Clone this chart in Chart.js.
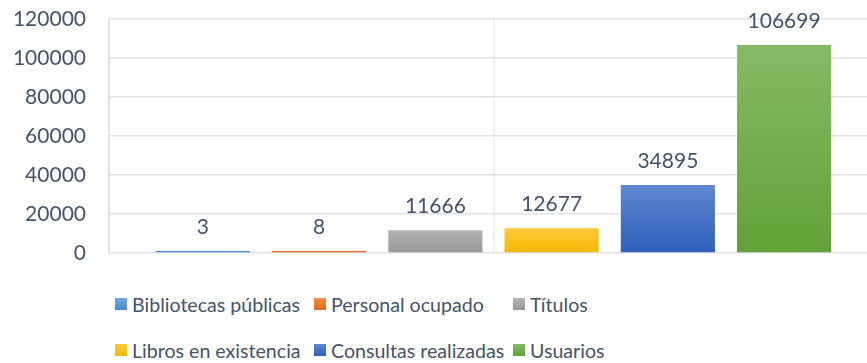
<!doctype html>
<html lang="es">
<head>
<meta charset="utf-8">
<title>Bibliotecas públicas</title>
<script src="https://cdn.jsdelivr.net/npm/chart.js@4.4.1/dist/chart.umd.min.js"></script>
<style>
  html, body { margin: 0; padding: 0; background: #fff; overflow: hidden; }
  #wrap { position: relative; width: 867px; height: 363px; overflow: hidden; }
  #box { position: absolute; left: 0; top: 0; width: 880px; height: 280px; }
  #legend {
    position: absolute; left: 115px; top: 292px;
    display: grid; grid-template-columns: 199px 199px 200px; row-gap: 22px;
    font-family: Lato, sans-serif;
    font-size: 19.6px; color: #44546A;
  }
  #legend .item { display: flex; align-items: center; height: 24px; white-space: nowrap; }
  #legend .sw { width: 12px; height: 12px; margin-right: 5px; flex: none; }
</style>
</head>
<body>
<div id="wrap">
  <div id="box"><canvas id="chart"></canvas></div>
  <div id="legend"></div>
</div>
<script>
// indicadores y sus valores
const series = ['Bibliotecas públicas', 'Personal ocupado', 'Títulos',
                'Libros en existencia', 'Consultas realizadas', 'Usuarios'];
const values = [3, 8, 11666, 12677, 34895, 106699];
const yTicks = [0, 20000, 40000, 60000, 80000, 100000, 120000];

// degradado de cada barra: [arriba, abajo]
const shades = [
  ['#6ea9dd', '#4b8acb'],
  ['#f28c48', '#e06a1c'],
  ['#b3b3b3', '#979797'],
  ['#ffc93c', '#f2b800'],
  ['#5f88d2', '#2e5eb8'],
  ['#86ba66', '#61a136']
];

const textColor = '#44546A';
const numFont = { family: 'Lato, sans-serif', size: 21 };

function barFill(i) {
  return c => {
    const chart = c.chart;
    if (!chart.chartArea || c.parsed == null) return shades[i][1];
    const y = chart.scales.y;
    const top = y.getPixelForValue(c.parsed.y);
    const bottom = y.getPixelForValue(0);
    if (bottom - top < 3) return shades[i][1];
    const g = chart.ctx.createLinearGradient(0, top, 0, bottom);
    g.addColorStop(0, shades[i][0]);
    g.addColorStop(1, shades[i][1]);
    return g;
  };
}

const valueLabels = {
  id: 'valueLabels',
  afterDatasetsDraw(chart) {
    const ctx = chart.ctx;
    ctx.save();
    ctx.font = `${numFont.size}px ${numFont.family}`;
    ctx.fillStyle = textColor;
    ctx.textAlign = 'center';
    ctx.textBaseline = 'middle';
    chart.data.datasets.forEach((ds, i) => {
      chart.getDatasetMeta(i).data.forEach((bar, j) => {
        ctx.fillText(String(ds.data[j]), bar.x, bar.y - 24);
      });
    });
    ctx.restore();
  }
};

new Chart(document.getElementById('chart'), {
  type: 'bar',
  data: {
    labels: [''],
    datasets: series.map((name, i) => ({
      label: name,
      data: [values[i]],
      backgroundColor: barFill(i),
      borderWidth: 0,
      minBarLength: 2,
      categoryPercentage: 0.907,
      barPercentage: 0.81
    }))
  },
  options: {
    responsive: true,
    maintainAspectRatio: false,
    animation: false,
    layout: { padding: { left: 0, right: 2, top: 19, bottom: 27 } },
    plugins: { legend: { display: false }, tooltip: { enabled: false } },
    scales: {
      x: {
        grid: { offset: false, drawTicks: false, color: '#eef0f3', lineWidth: 2 },
        border: { display: false },
        ticks: { display: false }
      },
      y: {
        min: 0, max: 120000,
        afterBuildTicks: s => { s.ticks = yTicks.map(v => ({ value: v })); },
        afterFit: s => { s.width = 109; s.paddingTop = 13; s.paddingBottom = 13; },
        grid: { drawTicks: false, color: '#dfe2e7', lineWidth: 1.5 },
        border: { display: true, color: '#dfe2e7', width: 2 },
        ticks: { padding: 23, color: textColor, font: numFont, callback: v => String(v) }
      }
    }
  },
  plugins: [valueLabels]
});

// leyenda en tres columnas
const legend = document.getElementById('legend');
series.forEach((name, i) => {
  const item = document.createElement('div');
  item.className = 'item';
  const sw = document.createElement('span');
  sw.className = 'sw';
  sw.style.background = `linear-gradient(${shades[i][0]}, ${shades[i][1]})`;
  const label = document.createElement('span');
  label.textContent = name;
  item.appendChild(sw);
  item.appendChild(label);
  legend.appendChild(item);
});
</script>
</body>
</html>
